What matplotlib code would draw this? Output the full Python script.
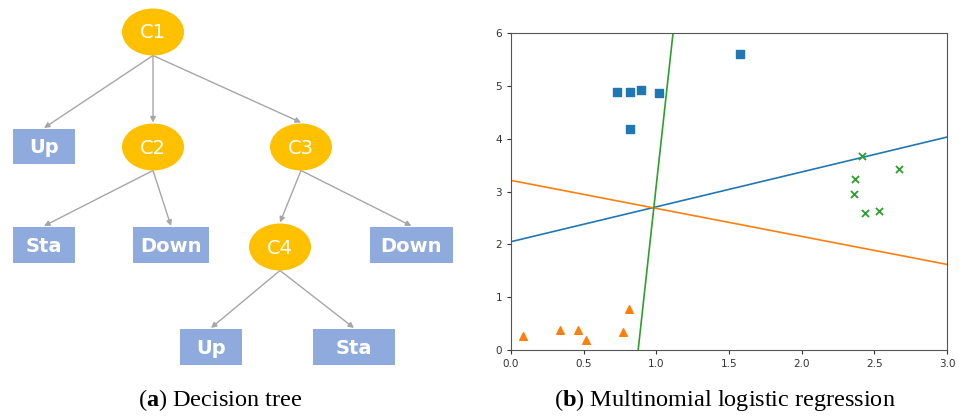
import numpy as np
import matplotlib.pyplot as plt
from matplotlib.patches import Ellipse, Rectangle

plt.rcParams["mathtext.fontset"] = "custom"
plt.rcParams["mathtext.rm"] = "Liberation Serif"
plt.rcParams["mathtext.bf"] = "Liberation Serif:bold"


# decision tree nodes: name -> label
NODE_LABELS = {
    "c1": "C1", "c2": "C2", "c3": "C3", "c4": "C4",
    "up1": "Up", "sta1": "Sta", "down1": "Down", "down2": "Down",
    "up2": "Up", "sta2": "Sta",
}
TREE_EDGES = [
    ("c1", "up1"), ("c1", "c2"), ("c1", "c3"),
    ("c2", "sta1"), ("c2", "down1"),
    ("c3", "c4"), ("c3", "down2"),
    ("c4", "up2"), ("c4", "sta2"),
]

# class samples
class0_x = [0.728, 0.822, 0.896, 1.015, 0.818, 1.574]
class0_y = [4.89, 4.89, 4.92, 4.86, 4.19, 5.60]
class1_x = [0.083, 0.340, 0.464, 0.517, 0.772, 0.809]
class1_y = [0.27, 0.37, 0.37, 0.19, 0.35, 0.77]
class2_x = [2.414, 2.369, 2.359, 2.433, 2.534, 2.669]
class2_y = [3.666, 3.236, 2.958, 2.585, 2.623, 3.432]

# decision boundaries, y = a*x + b
blue_line = (0.66, 2.05)
orange_line = (-0.53, 3.21)
green_x = [0.875, 1.115]
green_y = [0.0, 6.0]


# *** LAYOUT (pixels in the left panel) *** #
ELLIPSE_POS = {"c1": (153, 32), "c2": (153, 147), "c3": (301, 147), "c4": (280, 247)}
BOX_POS = {
    "up1": (13, 129, 62, 35), "sta1": (13, 227, 62, 36),
    "down1": (133, 227, 76, 36), "down2": (370, 227, 83, 36),
    "up2": (180, 329, 62, 36), "sta2": (313, 329, 82, 36),
}
EW, EH = 62, 47

GOLD = "#FFC000"
BOXBLUE = "#8FAADC"
ARROW = "#A6A6A6"


def nodeBottom(name):
    if name in ELLIPSE_POS:
        x, y = ELLIPSE_POS[name]
        return x, y + EH / 2
    x, y, w, h = BOX_POS[name]
    return x + w / 2, y + h


def nodeTop(name):
    if name in ELLIPSE_POS:
        x, y = ELLIPSE_POS[name]
        return x, y - EH / 2
    x, y, w, h = BOX_POS[name]
    return x + w / 2, y


fig = plt.figure(figsize=(9.59, 4.16), dpi=100)

# ---- left panel: decision tree ----
ax_t = fig.add_axes([0, 0, 480 / 959, 1])
ax_t.set_xlim(0, 480)
ax_t.set_ylim(416, 0)
ax_t.axis("off")

for src, dst in TREE_EDGES:
    x0, y0 = nodeBottom(src)
    x1, y1 = nodeTop(dst)
    ax_t.annotate("", xy=(x1, y1 - 1), xytext=(x0, y0),
                  arrowprops=dict(arrowstyle="-|>", color=ARROW, lw=1.0,
                                  mutation_scale=8, shrinkA=0, shrinkB=0))

for name, (x, y) in ELLIPSE_POS.items():
    ax_t.add_patch(Ellipse((x, y), EW, EH, facecolor=GOLD, edgecolor="none", zorder=3))
    ax_t.text(x, y + 1, NODE_LABELS[name], color="white", fontsize=14,
              ha="center", va="center", zorder=4)

for name, (x, y, w, h) in BOX_POS.items():
    ax_t.add_patch(Rectangle((x, y), w, h, facecolor=BOXBLUE, edgecolor="none", zorder=3))
    ax_t.text(x + w / 2, y + h / 2 + 1, NODE_LABELS[name], color="white", fontsize=14,
              fontweight="bold", ha="center", va="center", zorder=4)

ax_t.text(220, 400, r"($\mathbf{a}$) Decision tree", fontsize=17.5,
          family="Liberation Serif", ha="center", va="center")

# ---- right panel: multinomial logistic regression ----
ax = fig.add_axes([511 / 959, 1 - 350 / 416, 436 / 959, 317 / 416])
ax.set_xlim(0, 3)
ax.set_ylim(0, 6)

xs = np.array([0, 3])
ax.plot(xs, blue_line[0] * xs + blue_line[1], color="#1f77b4", lw=1.2)
ax.plot(xs, orange_line[0] * xs + orange_line[1], color="#ff7f0e", lw=1.2)
ax.plot(green_x, green_y, color="#2ca02c", lw=1.2)

ax.scatter(class0_x, class0_y, marker="s", s=28, color="#1f77b4", zorder=3)
ax.scatter(class1_x, class1_y, marker="^", s=30, color="#ff7f0e", zorder=3)
ax.scatter(class2_x, class2_y, marker="x", s=26, color="#2ca02c", linewidths=1.3, zorder=3)

ax.set_xticks([0.0, 0.5, 1.0, 1.5, 2.0, 2.5, 3.0])
ax.set_yticks([0, 1, 2, 3, 4, 5, 6])
ax.tick_params(labelsize=7.5, length=3, colors="#333333")
for sp in ax.spines.values():
    sp.set_color("#555555")

fig.text(725 / 959, 1 - 400 / 416, r"($\mathbf{b}$) Multinomial logistic regression",
         fontsize=17.5, family="Liberation Serif", ha="center", va="center")

fig.savefig("out.png", dpi=100)
